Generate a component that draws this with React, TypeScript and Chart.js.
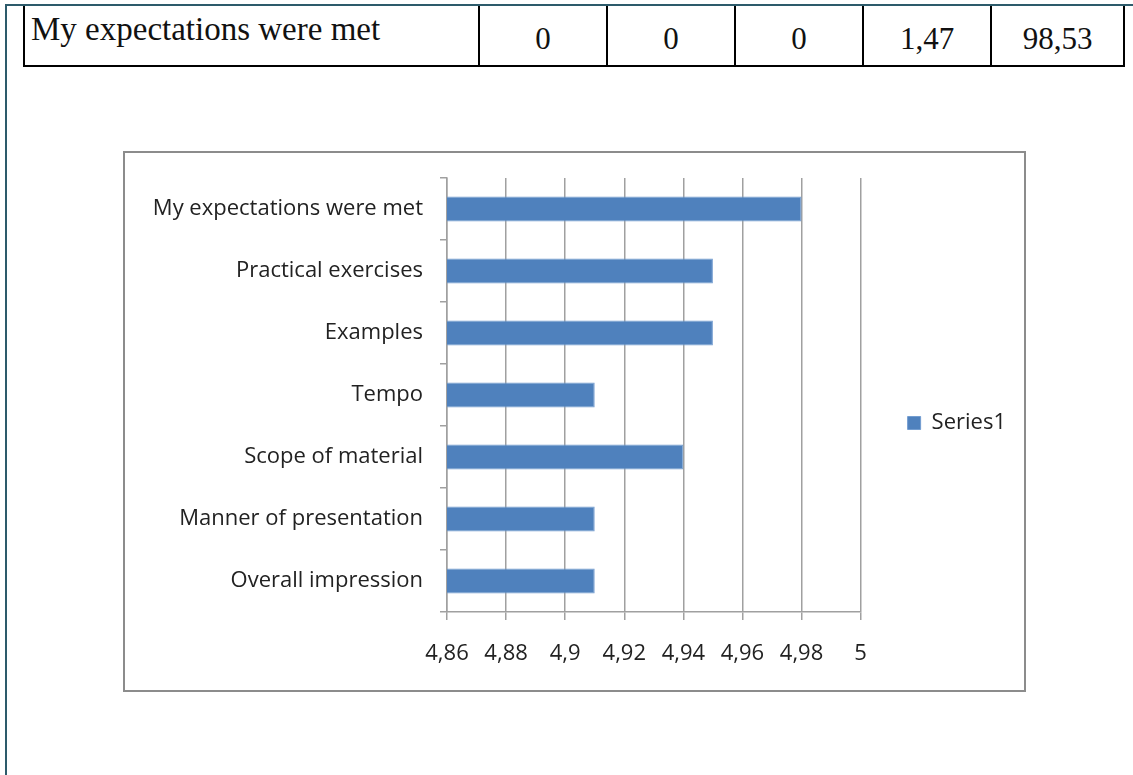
import React, { useEffect, useRef } from "react";
import { Chart, registerables } from "chart.js";

Chart.register(...registerables);

const categories = [
  "My expectations were met",
  "Practical exercises",
  "Examples",
  "Tempo",
  "Scope of material",
  "Manner of presentation",
  "Overall impression",
];
const seriesName = "Series1";
const series1 = [4.98, 4.95, 4.95, 4.91, 4.94, 4.91, 4.91];
const tickValues = [4.86, 4.88, 4.9, 4.92, 4.94, 4.96, 4.98, 5];

const tableLabel = "My expectations were met";
const tableValues = ["0", "0", "0", "1,47", "98,53"];

const FONT = "'Open Sans', sans-serif";
const TEXT = "#222222";
const GRID = "#a0a0a0";

const colEdges = [23, 478, 606, 734, 862, 990, 1123];

export default function App() {
  const ref = useRef<HTMLCanvasElement>(null);

  useEffect(() => {
    document.body.style.margin = "0";
    const chart = new Chart(ref.current as HTMLCanvasElement, {
      type: "bar",
      data: {
        labels: categories,
        datasets: [
          {
            label: seriesName,
            data: series1,
            backgroundColor: "#4f81bd",
            borderColor: "#739dd0",
            borderWidth: 1,
            barPercentage: 0.4,
            categoryPercentage: 1,
          },
        ],
      },
      options: {
        indexAxis: "y",
        animation: false,
        responsive: false,
        devicePixelRatio: 1,
        layout: { padding: { top: 25, bottom: 22, left: 0, right: 8 } },
        plugins: {
          legend: {
            position: "right",
            align: "center",
            labels: {
              boxWidth: 13,
              boxHeight: 13,
              padding: 47,
              color: TEXT,
              font: { family: FONT, size: 22 },
            },
          },
          tooltip: { enabled: false },
        },
        scales: {
          x: {
            type: "linear",
            min: tickValues[0],
            max: tickValues[tickValues.length - 1],
            afterBuildTicks: (s: any) => {
              s.ticks = tickValues.map((v) => ({ value: v }));
            },
            afterFit: (s: any) => {
              s.height = 56;
              s.paddingLeft = 0;
              s.paddingRight = 0;
            },
            ticks: {
              callback: (v: any) => String(v).replace(".", ","),
              padding: 21,
              color: TEXT,
              font: { family: FONT, size: 22 },
              maxRotation: 0,
              autoSkip: false,
            },
            grid: { color: GRID, lineWidth: 1.5, tickLength: 8 },
            border: { color: GRID, width: 1.5 },
          },
          y: {
            afterFit: (s: any) => {
              s.width = 322;
              s.paddingTop = 0;
              s.paddingBottom = 0;
            },
            ticks: {
              padding: 17,
              color: TEXT,
              font: { family: FONT, size: 22 },
            },
            grid: { drawOnChartArea: false, tickLength: 7, color: GRID, lineWidth: 1.5 },
            border: { color: GRID, width: 1.5 },
          },
        },
      },
    } as any);
    return () => chart.destroy();
  }, []);

  const cellBase: React.CSSProperties = {
    position: "absolute",
    top: 6,
    height: 61,
    boxSizing: "border-box",
    borderBottom: "2px solid #000",
    borderLeft: "2px solid #000",
    fontFamily: "'Liberation Serif', 'Times New Roman', serif",
    fontSize: 31,
    color: "#111",
  };

  return (
    <div
      style={{
        position: "relative",
        width: 1133,
        height: 775,
        overflow: "hidden",
        background: "#fff",
      }}
    >
      {/* table row */}
      <div
        style={{
          ...cellBase,
          left: colEdges[0],
          width: colEdges[1] - colEdges[0],
          paddingLeft: 6,
          fontSize: 33,
          lineHeight: "46px",
        }}
      >
        {tableLabel}
      </div>
      {tableValues.map((v, i) => (
        <div
          key={i}
          style={{
            ...cellBase,
            left: colEdges[i + 1],
            width: colEdges[i + 2] - colEdges[i + 1] + (i === tableValues.length - 1 ? 2 : 0),
            borderRight: i === tableValues.length - 1 ? "2px solid #000" : undefined,
            textAlign: "center",
            lineHeight: "66px",
          }}
        >
          {v}
        </div>
      ))}

      {/* document frame lines */}
      <div style={{ position: "absolute", left: 5, top: 4, width: 1128, height: 2, background: "#2d5b6b" }} />
      <div style={{ position: "absolute", left: 5, top: 4, width: 2, height: 771, background: "#2d5b6b" }} />

      {/* chart frame */}
      <div
        style={{
          position: "absolute",
          left: 123,
          top: 151,
          width: 903,
          height: 541,
          boxSizing: "border-box",
          border: "2px solid #8c8c8c",
        }}
      />
      <canvas
        ref={ref}
        width={899}
        height={537}
        style={{ position: "absolute", left: 125, top: 153, width: 899, height: 537 }}
      />
    </div>
  );
}
